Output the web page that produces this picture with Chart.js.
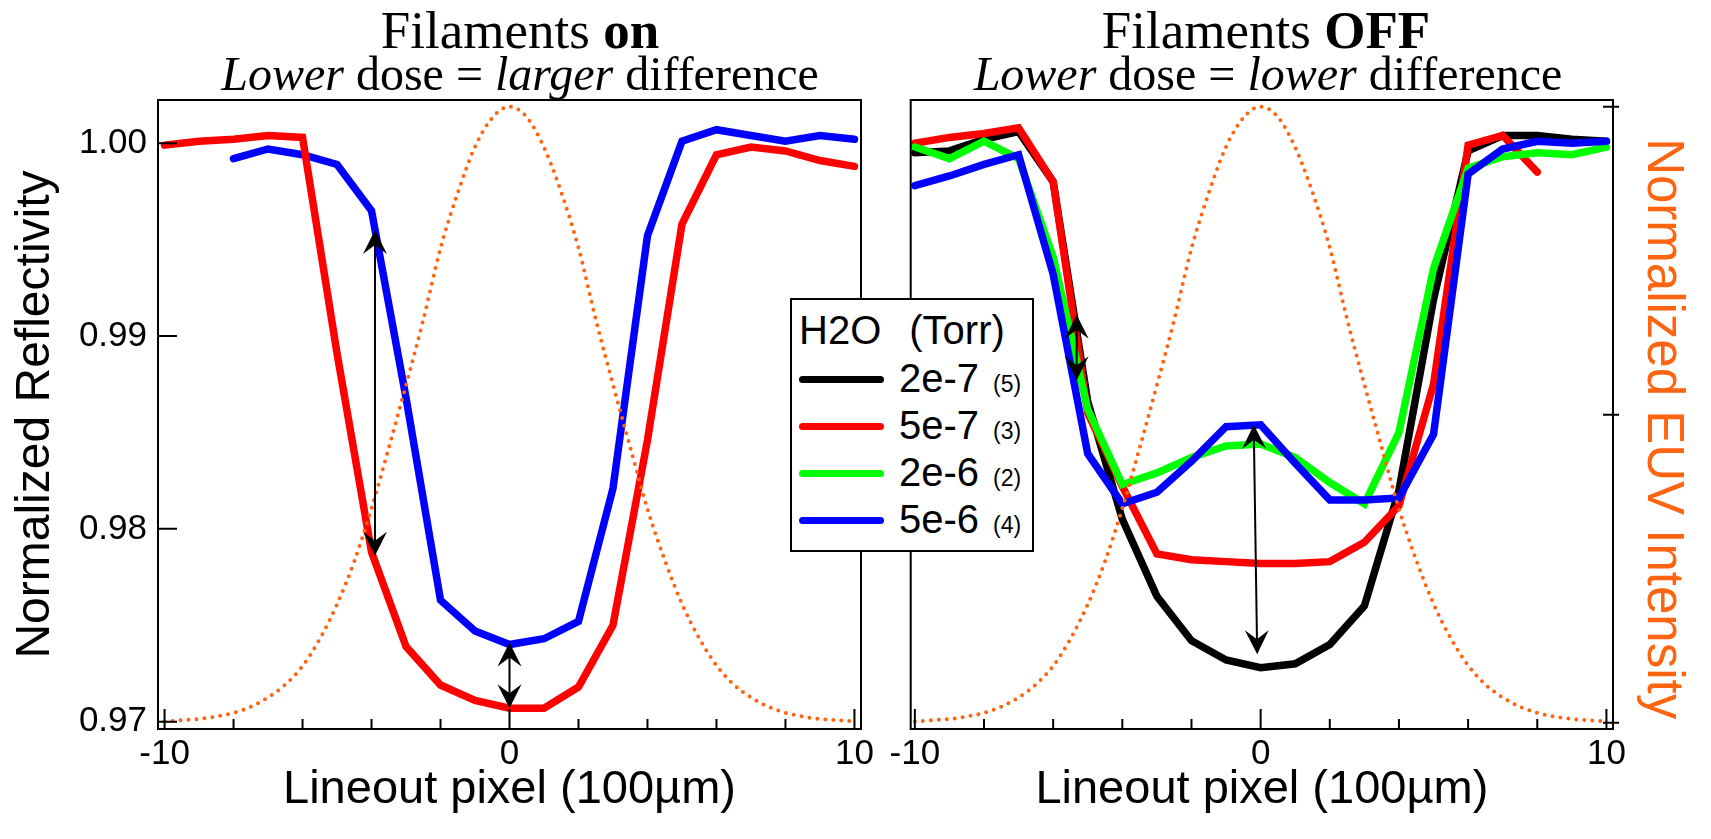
<!DOCTYPE html>
<html lang="en">
<head>
<meta charset="utf-8">
<title>Filaments on / OFF</title>
<script src="https://cdn.jsdelivr.net/npm/chart.js@4.4.1/dist/chart.umd.min.js"></script>
<style>
  body { margin: 0; background: #fff; }
  #lienzo { position: relative; width: 1711px; height: 839px; overflow: hidden; background: #fff; }
  canvas { position: absolute; top: 0; }
  #graficoOn { left: 0; }
  #graficoOff { left: 880px; }
  .titulo { position: absolute; width: 880px; text-align: center; white-space: nowrap;
            font-family: "Liberation Serif", "Times New Roman", serif; color: #000; }
  .t1 { top: 4px; font-size: 53px; line-height: 53px; }
  .t2 { top: 50px; font-size: 48px; line-height: 48px; }
  #leyenda { position: absolute; left: 790px; top: 298px; width: 240px; height: 250px;
             border: 2px solid #000; background: #fff; color: #000;
             font-family: "Liberation Sans", Arial, sans-serif; }
  #leyenda div { position: absolute; white-space: nowrap; }
  .cab { left: 7px; top: 10px; font-size: 40px; line-height: 40px; }
  .linea { left: 7px; width: 85px; height: 7px; border-radius: 4px; }
  .etiq { left: 107px; font-size: 40px; line-height: 40px; }
  .etiq small { font-size: 23px; margin-left: 14px; }
</style>
</head>
<body>
<div id="lienzo">
  <canvas id="graficoOn" width="880" height="839"></canvas>
  <canvas id="graficoOff" width="831" height="839"></canvas>
  <div class="titulo t1" style="left:80px">Filaments <b>on</b></div>
  <div class="titulo t2" style="left:80px"><i>Lower</i> dose = <i>larger</i> difference</div>
  <div class="titulo t1" style="left:826px">Filaments <b>OFF</b></div>
  <div class="titulo t2" style="left:828px"><i>Lower</i> dose = <i>lower</i> difference</div>
  <div id="leyenda"></div>
</div>
<script>
// Pixeles del lineout (unidades de 100 µm)
const pixelX = [-10, -9, -8, -7, -6, -5, -4, -3, -2, -1, 0, 1, 2, 3, 4, 5, 6, 7, 8, 9, 10];
const pixelXDesde8 = [-8, -7, -6, -5, -4, -3, -2, -1, 0, 1, 2, 3, 4, 5, 6, 7, 8, 9, 10];
const pixelXHasta8 = [-10, -9, -8, -7, -6, -5, -4, -3, -2, -1, 0, 1, 2, 3, 4, 5, 6, 7, 8];

// Filamentos encendidos
const onRed5e7 = [0.9999, 1.0001, 1.0002, 1.0004, 1.0003, 0.9891, 0.9788, 0.9739, 0.9719, 0.9711, 0.9707,
                  0.9707, 0.9718, 0.9750, 0.9846, 0.9958, 0.9994, 0.9998, 0.9996, 0.9991, 0.9988];
const onBlue5e6 = [0.9992, 0.9997, 0.9994, 0.9989, 0.9965, 0.9868, 0.9763, 0.9747, 0.9740, 0.9743,
                   0.9752, 0.9821, 0.9952, 1.0001, 1.0007, 1.0004, 1.0001, 1.0004, 1.0002];

// Filamentos apagados
const offBlack2e7 = [0.9995, 0.9996, 1.0002, 1.0006, 0.9980, 0.9866, 0.9805, 0.9765, 0.9742, 0.9732, 0.9728,
                     0.9730, 0.9740, 0.9760, 0.9820, 0.9919, 0.9996, 1.0004, 1.0004, 1.0002, 1.0001];
const offRed5e7 = [1.0000, 1.0003, 1.0005, 1.0008, 0.9980, 0.9860, 0.9822, 0.9787, 0.9784, 0.9783,
                   0.9782, 0.9782, 0.9783, 0.9793, 0.9812, 0.9875, 0.9999, 1.0004, 0.9985];
const offGreen2e6 = [0.9998, 0.9992, 1.0001, 0.9992, 0.9941, 0.9862, 0.9823, 0.9829, 0.9837, 0.9843, 0.9844,
                     0.9837, 0.9824, 0.9813, 0.9850, 0.9935, 0.9987, 0.9993, 0.9995, 0.9994, 0.9998];
const offBlue5e6 = [0.9978, 0.9983, 0.9989, 0.9994, 0.9932, 0.9839, 0.9813, 0.9819, 0.9835, 0.9853, 0.9854,
                    0.9834, 0.9815, 0.9815, 0.9816, 0.9849, 0.9984, 0.9997, 1.0001, 1.0000, 1.0001];

// Perfil EUV normalizado (linea punteada)
const euvX = [-10, -9.5, -9, -8.5, -8, -7.5, -7, -6.5, -6, -5.5, -5, -4.5, -4, -3.5, -3, -2.5, -2, -1.5, -1, -0.5, 0,
              0.5, 1, 1.5, 2, 2.5, 3, 3.5, 4, 4.5, 5, 5.5, 6, 6.5, 7, 7.5, 8, 8.5, 9, 9.5, 10];
const euvIntensidad = [0.002, 0.004, 0.006, 0.010, 0.016, 0.026, 0.041, 0.062, 0.092, 0.136, 0.192, 0.262, 0.348,
                       0.446, 0.548, 0.654, 0.770, 0.860, 0.935, 0.982, 1.000, 0.983, 0.934, 0.861, 0.771, 0.655,
                       0.549, 0.447, 0.347, 0.264, 0.193, 0.137, 0.093, 0.062, 0.041, 0.026, 0.016, 0.010, 0.006,
                       0.004, 0.002];

// Leyenda
const seriesNombres = ["2e-7", "5e-7", "2e-6", "5e-6"];
const seriesCorridas = ["(5)", "(3)", "(2)", "(4)"];
const seriesColores = ["#000000", "#ff0000", "#00ff00", "#0000ff"];

// Marcas de ejes
const marcasX = [-10, -8, -6, -4, -2, 0, 2, 4, 6, 8, 10];
const etiquetasX = [-10, 0, 10];
const marcasReflect = [0.97, 0.98, 0.99, 1.0];
const marcasEUV = [0, 0.5, 1];

// Flechas de diferencia
const flechasOn = [
  { x1: -3.9, y1: 0.9955, x2: -3.9, y2: 0.9786 },
  { x1: 0, y1: 0.9741, x2: 0, y2: 0.9707 },
];
const flechasOff = [
  { x1: -5.32, y1: 0.9911, x2: -5.32, y2: 0.9877 },
  { x1: -0.2, y1: 0.9854, x2: -0.1, y2: 0.9735 },
];

const FUENTE = "'Liberation Sans', Arial, sans-serif";
const NARANJA = "#ff6410";
Chart.defaults.font.family = FUENTE;
Chart.defaults.color = "#000";

const REFL_MIN = 0.96962, REFL_MAX = 1.00224;
const EUV_MIN = -0.01023, EUV_MAX = 1.01088;

function puntos(xs, ys) {
  return ys.map((y, i) => ({ x: xs[i], y: y }));
}

function serie(etiqueta, xs, ys, color, orden) {
  return {
    label: etiqueta,
    data: puntos(xs, ys),
    yAxisID: "y",
    borderColor: color,
    backgroundColor: color,
    borderWidth: 7.5,
    borderCapStyle: "round",
    borderJoinStyle: "miter",
    pointRadius: 0,
    tension: 0,
    order: orden,
  };
}

function serieEUV() {
  return {
    label: "EUV",
    data: puntos(euvX, euvIntensidad),
    yAxisID: "y2",
    borderColor: NARANJA,
    borderWidth: 4,
    borderDash: [0, 8],
    borderCapStyle: "round",
    pointRadius: 0,
    cubicInterpolationMode: "monotone",
    order: 0,
  };
}

function ejeX(min, max) {
  return {
    type: "linear",
    min: min,
    max: max,
    grid: { display: false, drawTicks: false },
    border: { display: false },
    afterBuildTicks: (eje) => { eje.ticks = marcasX.map((v) => ({ value: v })); },
    ticks: {
      autoSkip: false,
      maxRotation: 0,
      padding: 4,
      font: { size: 35 },
      callback: (v) => (etiquetasX.includes(v) ? String(v) : ""),
    },
    title: { display: true, text: "Lineout pixel (100µm)", font: { size: 47 }, padding: { top: 0, bottom: 21 } },
    afterFit: (eje) => { eje.height = 110; },
  };
}

function punta(ctx, tx, ty, ux, uy) {
  const L = 24, W = 12, N = 15;
  const vx = -uy, vy = ux;
  ctx.beginPath();
  ctx.moveTo(tx, ty);
  ctx.lineTo(tx + ux * L + vx * W, ty + uy * L + vy * W);
  ctx.lineTo(tx + ux * N, ty + uy * N);
  ctx.lineTo(tx + ux * L - vx * W, ty + uy * L - vy * W);
  ctx.closePath();
  ctx.fill();
}

function dibujarFlecha(ctx, ex, ey, f) {
  const ax = ex.getPixelForValue(f.x1), ay = ey.getPixelForValue(f.y1);
  const bx = ex.getPixelForValue(f.x2), by = ey.getPixelForValue(f.y2);
  const largo = Math.hypot(bx - ax, by - ay);
  const ux = (bx - ax) / largo, uy = (by - ay) / largo;
  ctx.lineWidth = 2;
  ctx.beginPath();
  ctx.moveTo(ax + ux * 10, ay + uy * 10);
  ctx.lineTo(bx - ux * 10, by - uy * 10);
  ctx.stroke();
  punta(ctx, ax, ay, ux, uy);
  punta(ctx, bx, by, -ux, -uy);
}

// Marco, marcas hacia adentro y flechas
function crearMarco(config) {
  return {
    id: "marco",
    afterDatasetsDraw(chart) {
      const { ctx, chartArea: a, scales } = chart;
      ctx.save();
      ctx.strokeStyle = "#000";
      ctx.fillStyle = "#000";
      ctx.lineWidth = 2;
      ctx.strokeRect(a.left, a.top, a.right - a.left, a.bottom - a.top);
      ctx.beginPath();
      marcasX.forEach((v) => {
        const px = scales.x.getPixelForValue(v);
        const largo = etiquetasX.includes(v) ? 20 : 10;
        ctx.moveTo(px, a.bottom);
        ctx.lineTo(px, a.bottom - largo);
      });
      if (config.marcasY) {
        marcasReflect.forEach((v) => {
          const py = scales.y.getPixelForValue(v);
          ctx.moveTo(a.left, py);
          ctx.lineTo(a.left + 19, py);
        });
      }
      if (config.marcasY2) {
        marcasEUV.forEach((v) => {
          const py = scales.y2.getPixelForValue(v);
          ctx.moveTo(a.right - 10, py);
          ctx.lineTo(a.right + 6, py);
        });
      }
      ctx.stroke();
      config.flechas.forEach((f) => dibujarFlecha(ctx, scales.x, scales.y, f));
      ctx.restore();
    },
  };
}

function crearPanelOn() {
  const ctx = document.getElementById("graficoOn").getContext("2d");
  new Chart(ctx, {
    type: "line",
    data: {
      datasets: [
        serieEUV(),
        serie("5e-7", pixelX, onRed5e7, seriesColores[1], 1),
        serie("5e-6", pixelXDesde8, onBlue5e6, seriesColores[3], 2),
      ],
    },
    options: {
      animation: false,
      responsive: false,
      layout: { padding: { top: 100, right: 19, bottom: 0, left: 0 } },
      plugins: { legend: { display: false }, tooltip: { enabled: false } },
      scales: {
        x: ejeX(-10.19, 10.19),
        y: {
          min: REFL_MIN,
          max: REFL_MAX,
          grid: { display: false, drawTicks: false },
          border: { display: false },
          afterBuildTicks: (eje) => { eje.ticks = marcasReflect.map((v) => ({ value: v })); },
          ticks: { padding: 11, font: { size: 35 }, callback: (v) => v.toFixed(2) },
          title: { display: true, text: "Normalized Reflectivity", font: { size: 48 }, padding: { top: 7, bottom: 0 } },
          afterFit: (eje) => { eje.width = 158; },
        },
        y2: { display: false, min: EUV_MIN, max: EUV_MAX },
      },
    },
    plugins: [crearMarco({ marcasY: true, marcasY2: false, flechas: flechasOn })],
  });
}

function crearPanelOff() {
  const ctx = document.getElementById("graficoOff").getContext("2d");
  new Chart(ctx, {
    type: "line",
    data: {
      datasets: [
        serieEUV(),
        serie("2e-7", pixelX, offBlack2e7, seriesColores[0], 4),
        serie("5e-7", pixelXHasta8, offRed5e7, seriesColores[1], 3),
        serie("2e-6", pixelX, offGreen2e6, seriesColores[2], 2),
        serie("5e-6", pixelX, offBlue5e6, seriesColores[3], 1),
      ],
    },
    options: {
      animation: false,
      responsive: false,
      layout: { padding: { top: 100, right: 0, bottom: 0, left: 0 } },
      plugins: { legend: { display: false }, tooltip: { enabled: false } },
      scales: {
        x: ejeX(-10.12, 10.19),
        y: {
          min: REFL_MIN,
          max: REFL_MAX,
          grid: { display: false, drawTicks: false },
          border: { display: false },
          ticks: { display: false },
          afterFit: (eje) => { eje.width = 30.7; },
        },
        y2: {
          position: "right",
          min: EUV_MIN,
          max: EUV_MAX,
          grid: { display: false, drawTicks: false },
          border: { display: false },
          ticks: { display: false },
          title: { display: true, text: "  Normalized EUV Intensity", color: NARANJA, font: { size: 51 }, padding: { top: 18, bottom: 0 } },
          afterFit: (eje) => { eje.width = 98; },
        },
      },
    },
    plugins: [crearMarco({ marcasY: false, marcasY2: true, flechas: flechasOff })],
  });
}

function crearLeyenda() {
  let html = '<div class="cab">H2O<span style="margin-left:28px">(Torr)</span></div>';
  seriesNombres.forEach((nombre, i) => {
    const cy = 79 + i * 47.2;
    html += `<div class="linea" style="top:${cy - 3.5}px;background:${seriesColores[i]}"></div>`;
    html += `<div class="etiq" style="top:${cy + 12.7 - 33.9}px">${nombre}<small>${seriesCorridas[i]}</small></div>`;
  });
  document.getElementById("leyenda").innerHTML = html;
}

crearPanelOn();
crearPanelOff();
crearLeyenda();
</script>
</body>
</html>
